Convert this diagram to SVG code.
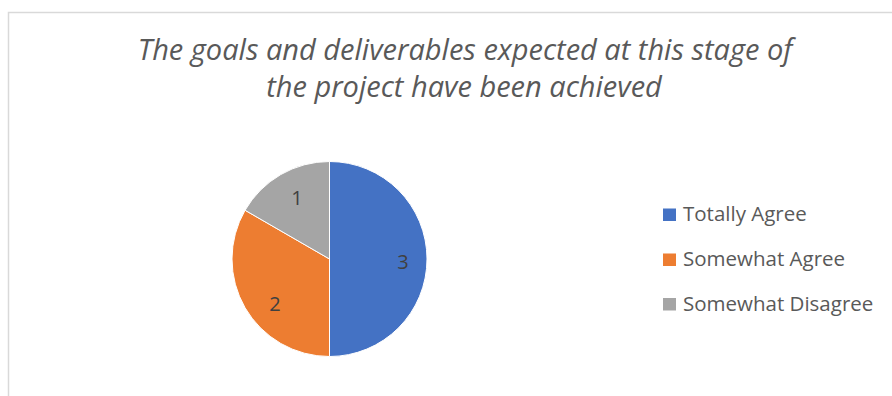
<svg xmlns="http://www.w3.org/2000/svg" width="892" height="396" viewBox="0 0 892 396">
<style>
.title{font-family:"Open Sans","Liberation Sans",sans-serif;font-style:italic;font-size:29px;fill:#595959;text-anchor:middle}
.lbl{font-family:"Open Sans","Liberation Sans",sans-serif;font-size:20px;fill:#404040;text-anchor:middle}
.leg{font-family:"Open Sans","Liberation Sans",sans-serif;font-size:20.5px;fill:#595959}
.sl{stroke:#fff;stroke-width:1}
</style>
<rect x="0" y="0" width="892" height="396" fill="#fff"/>
<path d="M8.5 396 V12.5 H892" fill="none" stroke="#d9d9d9" stroke-width="1.5"/>
<g id="title">
<text class="title" x="465" y="60">The goals and deliverables expected at this stage of</text>
<text class="title" x="464" y="97">the project have been achieved</text>
</g>
<g id="pie">
<g id="slice-totally-agree">
<path class="sl" d="M329.5 259 V161.5 A97.5 97.5 0 0 1 329.5 356.5 Z" fill="#4472C4"/>
<text class="lbl" x="403" y="269">3</text>
</g>
<g id="slice-somewhat-agree">
<path class="sl" d="M329.5 259 V356.5 A97.5 97.5 0 0 1 245.06 210.25 Z" fill="#ED7D31"/>
<text class="lbl" x="275" y="311">2</text>
</g>
<g id="slice-somewhat-disagree">
<path class="sl" d="M329.5 259 L245.06 210.25 A97.5 97.5 0 0 1 329.5 161.5 Z" fill="#A5A5A5"/>
<text class="lbl" x="297" y="205">1</text>
</g>
</g>
<g id="legend">
<g id="legend-totally-agree"><rect x="663" y="208.5" width="13" height="12.5" fill="#4472C4"/><text class="leg" x="683" y="221">Totally Agree</text></g>
<g id="legend-somewhat-agree"><rect x="663" y="253.5" width="13" height="12.5" fill="#ED7D31"/><text class="leg" x="683" y="266">Somewhat Agree</text></g>
<g id="legend-somewhat-disagree"><rect x="663" y="298" width="13" height="12.5" fill="#A5A5A5"/><text class="leg" x="683" y="310.5">Somewhat Disagree</text></g>
</g>
</svg>
